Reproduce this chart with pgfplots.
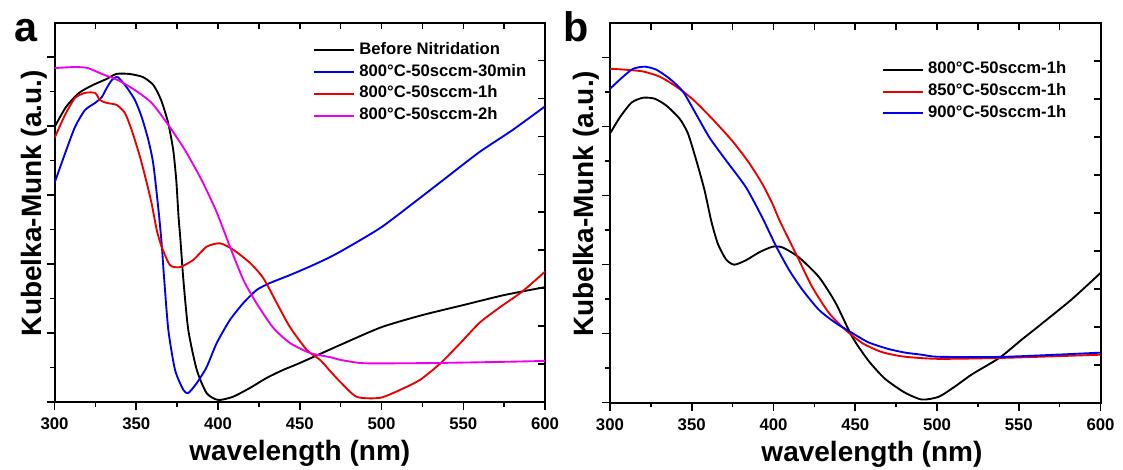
\documentclass[border=0pt]{standalone}
\usepackage{fontspec}
\setmainfont{Liberation Sans}
\usepackage{pgfplots}
\pgfplotsset{compat=1.18}
\definecolor{cblue}{RGB}{0,0,235}
\definecolor{cred}{RGB}{235,0,0}
\definecolor{cmag}{RGB}{235,0,235}
\pgfplotsset{
  base/.style={scale only axis, width=367.9pt, height=284.6pt,
    xmin=300, xmax=600, ymin=0, ymax=11, anchor=south west,
    axis line style={line width=1.5pt},
    every tick/.style={black, line width=1.2pt}},
  main/.style={base, tick align=outside, xtick pos=left, ytick pos=left,
    major tick length=6pt, minor tick length=3.6pt,
    xtick={300,350,...,600}, minor xtick={325,375,...,575},
    ytick={0,2,...,10}, minor ytick={1,3,...,9}, yticklabels={},
    /pgf/number format/assume math mode=true,
    ticklabel style={font=\bfseries\fontsize{12.6}{15}\selectfont},
    xticklabel style={yshift=-2.5pt},
    xlabel={wavelength (nm)}, ylabel={Kubelka-Munk (a.u.)},
    label style={font=\bfseries\fontsize{21}{25}\selectfont},
    xlabel style={at={(axis description cs:0.5,-0.153)}, anchor=base},
    every axis plot/.append style={line width=1.4pt, smooth, tension=0.4},
    legend cell align=left,
    legend image code/.code={\draw[##1, line width=1.5pt] (0pt,0pt) -- (30pt,0pt);},
  },
  inner/.style={base, tick align=inside, xtick pos=right, ytick pos=right,
    ymax=10, xtick={325,350,...,575}, ytick={1,...,9},
    xticklabels={}, yticklabels={}, major tick length=5pt},
  leg/.style={legend style={draw=none, fill=none, at={#1}, anchor=north west,
    font=\bfseries\fontsize{12.5}{15}\selectfont, inner sep=0pt,
    row sep=2.3pt, column sep=2pt,
    nodes={inner sep=1pt, text height=9pt, text depth=3pt}}},
}
\begin{document}
\begin{tikzpicture}
\useasboundingbox (0,0) rectangle (842.25pt,-352.5pt);
% ---------- panel a ----------
\begin{axis}[inner, at={(40.9pt,-301.5pt)}]
\end{axis}
\begin{axis}[main, at={(40.9pt,-301.5pt)},
  ylabel style={at={(axis description cs:-0.026,0.524)}, anchor=base},
  leg={(rel axis cs:0.527,0.952)}]
\addplot[black] coordinates {
(300,7.97)(307,8.55)(315,8.96)(323.5,9.19)(331.7,9.36)(337.8,9.51)(345.7,9.51)
(354,9.42)(360.4,9.19)(365.2,8.75)(369.5,8.09)(372.6,7.3)(374.5,6.4)(375.8,5.4)
(377,4.7)(378.8,3.54)(381.8,2.09)(387,0.93)(393,0.26)(400,0.06)(409,0.15)
(419.6,0.41)(429.8,0.7)(439.8,0.93)(450,1.13)(475,1.66)(500,2.17)
(525,2.52)(550,2.81)(575,3.1)(600,3.33)};
\addlegendentry{Before Nitridation}
\addplot[cblue] coordinates {
(300,6.35)(306.4,7.2)(312.5,7.97)(318.6,8.46)(324.8,8.67)(328.9,8.84)(331.9,9.1)
(335,9.33)(338.6,9.42)(344,9.13)(349.2,8.75)(353.3,8.26)(357.4,7.59)(360.4,6.9)
(363.5,5.6)(365.5,4.6)(367,3.6)(369.6,2.09)(373.7,0.93)(378.8,0.35)(381.8,0.26)
(387,0.55)(393,1.01)(399.2,1.71)(407.3,2.38)(415.5,2.87)(423.7,3.25)(431.8,3.45)
(444,3.68)(456.3,3.93)(468.5,4.2)(480,4.5)(500,5.07)(522,5.86)(540,6.52)
(560,7.25)(580,7.88)(600,8.57)};
\addlegendentry{800°C-50sccm-30min}
\addplot[cred] coordinates {
(300,7.65)(306.4,8.32)(312.5,8.81)(318.6,8.96)(324.8,8.96)(327.8,8.75)(331.9,8.67)
(338,8.61)(343,8.38)(347.2,7.88)(352.3,7.1)(356.4,6.35)(359.4,5.75)(362.5,4.99)
(365.5,4.5)(370.6,3.97)(376.7,3.91)(384.9,4.12)(393,4.5)(401.2,4.6)(409.4,4.41)
(419.6,4.03)(427.7,3.59)(435.9,2.87)(444,2.17)(454.3,1.51)(462.4,1.22)(468.5,0.9)
(474.6,0.59)(484.8,0.15)(499,0.12)(511.3,0.35)(523.5,0.64)(536,1.12)(548,1.7)
(560,2.3)(572.5,2.75)(586,3.2)(600,3.78)};
\addlegendentry{800°C-50sccm-1h}
\addplot[cmag] coordinates {
(300,9.68)(312.5,9.71)(320.5,9.68)(328.9,9.51)(338.8,9.33)(349.2,9.04)(359.4,8.67)
(369.6,8.03)(379.8,7.3)(390,6.43)(399.2,5.5)(407.3,4.5)(415.5,3.54)(423.7,2.85)
(433.8,2.15)(444,1.71)(456.3,1.42)(468.5,1.3)(475,1.22)(487,1.13)(500,1.12)
(532,1.13)(570,1.16)(600,1.19)};
\addlegendentry{800°C-50sccm-2h}
\end{axis}
\node[anchor=base west, font=\bfseries\fontsize{31}{34}\selectfont] at (7pt,-31.5pt) {a};
% ---------- panel b ----------
\begin{axis}[inner, at={(457.5pt,-302pt)}]
\end{axis}
\begin{axis}[main, at={(457.5pt,-302pt)},
  ylabel style={at={(axis description cs:-0.034,0.524)}, anchor=base},
  xlabel style={at={(axis description cs:0.534,-0.155)}},
  leg={(rel axis cs:0.554,0.902)}]
\addplot[black] coordinates {
(300,7.8)(306,8.27)(313.2,8.7)(320.3,8.84)(327.4,8.81)(334.5,8.61)(342.6,8.23)
(347.7,7.8)(352.8,7.02)(357.8,6.16)(362,5.25)(366,4.6)(371,4.15)(376,4.0)
(383.2,4.13)(391.3,4.36)(399.4,4.52)(405.5,4.5)(415.6,4.21)(427.8,3.64)(438,2.89)
(448.1,1.91)(458,1.22)(468,0.7)(480,0.3)(490.7,0.09)(501,0.17)
(511,0.47)(521,0.81)(531.3,1.1)(539.4,1.34)(551.6,1.82)(561.7,2.2)(582,2.98)(600,3.76)};
\addlegendentry{800°C-50sccm-1h}
\addplot[cred] coordinates {
(300,9.68)(310,9.65)(320.3,9.6)(330.4,9.45)(340.6,9.16)(350.7,8.79)(362.9,8.21)
(375.1,7.57)(385.2,6.94)(393.3,6.33)(399.4,5.76)(403.5,5.3)(409.6,4.71)(415.6,4.13)
(423.7,3.35)(433.9,2.6)(444,2.11)(454.2,1.73)(464.3,1.5)(470,1.42)(480.6,1.33)
(501,1.27)(541.6,1.3)(600,1.39)};
\addlegendentry{850°C-50sccm-1h}
\addplot[cblue] coordinates {
(300,9.1)(308,9.45)(314.2,9.68)(321.3,9.74)(328.4,9.65)(336.5,9.39)(344.6,9.02)
(352.8,8.35)(360.9,7.68)(371,7.02)(383.2,6.24)(393.3,5.35)(401.4,4.55)(409.6,3.84)
(417.7,3.27)(427.8,2.69)(438,2.31)(448.1,2.02)(458,1.75)(470,1.56)(480.6,1.45)
(490.7,1.39)(501,1.33)(541.6,1.33)(600,1.45)};
\addlegendentry{900°C-50sccm-1h}
\end{axis}
\node[anchor=base west, font=\bfseries\fontsize{31}{34}\selectfont] at (419pt,-31.5pt) {b};
\end{tikzpicture}
\end{document}
